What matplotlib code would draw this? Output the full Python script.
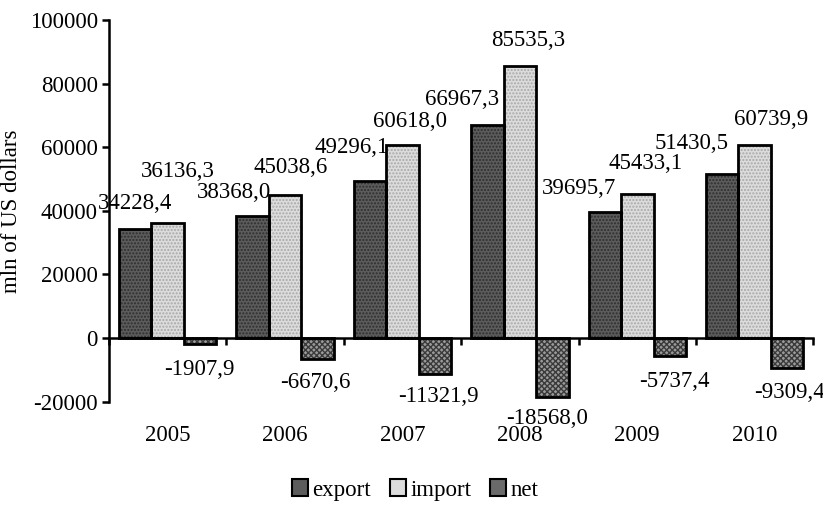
import matplotlib.pyplot as plt
import numpy as np
from matplotlib.patches import Patch

# data
years = ['2005', '2006', '2007', '2008', '2009', '2010']
export = [34228.4, 38368.0, 49296.1, 66967.3, 39695.7, 51430.5]
imports = [36136.3, 45038.6, 60618.0, 85535.3, 45433.1, 60739.9]
net = [-1907.9, -6670.6, -11321.9, -18568.0, -5737.4, -9309.4]

# label nudges in pixels (dx, dy), as placed in the original
export_nudge = [(0, 26), (-19, 23), (-18, 34), (-25, 26), (-26, 23), (-31, 31)]
import_nudge = [(10, 52), (6, 27), (8, 24), (8, 25), (8, 30), (16, 25)]
net_nudge = [(-1, -25), (-2, -23), (3, -22), (-5, -21), (5, -25), (2, -25)]

plt.rcParams['font.family'] = ['Liberation Serif', 'DejaVu Serif']
plt.rcParams['font.size'] = 16.5
plt.rcParams['axes.unicode_minus'] = False

fig = plt.figure(figsize=(8.23, 5.08), dpi=100)
ax = fig.add_axes([109 / 823, 1 - 401.6 / 508, (813.4 - 109) / 823, (401.6 - 20) / 508])

x = np.arange(len(years)) + 0.5
w = 0.277

series = [
    (export, -w, '#5c5c5c', '#2e2e2e', '.....', export_nudge),
    (imports, 0, '#dcdcdc', '#a8a8a8', '.....', import_nudge),
    (net, w, '#9a9a9a', '#3a3a3a', 'xxxxxx', net_nudge),
]

for vals, off, fc, hc, hatch, nudge in series:
    # filled pattern
    ax.bar(x + off, vals, w, color=fc, edgecolor=hc, hatch=hatch, linewidth=0, zorder=2)
    # black outline
    ax.bar(x + off, vals, w, fill=False, edgecolor='black', linewidth=2, zorder=3)
    for xi, v, (dx, dy) in zip(x + off, vals, nudge):
        ax.annotate(f"{v:.1f}".replace('.', ','), (xi, v), xytext=(dx, dy),
                    textcoords='offset pixels', ha='center', va='center', zorder=4)

ax.set_xlim(0, len(years))
ax.set_ylim(-20000, 100000)
ax.set_yticks(range(-20000, 100001, 20000))
ax.set_xticks(range(0, len(years) + 1))
ax.set_xticklabels([])

ax.spines['top'].set_visible(False)
ax.spines['right'].set_visible(False)
ax.spines['bottom'].set_position(('data', 0))
ax.spines['bottom'].set_linewidth(1.8)
ax.spines['left'].set_linewidth(1.8)
ax.spines['bottom'].set_zorder(5)
ax.tick_params(axis='both', direction='out', length=5, width=1.8)
ax.tick_params(axis='y', pad=3)

for xi, yr in zip(x, years):
    ax.text(xi, -0.088, yr, transform=ax.get_xaxis_transform(), ha='center', va='center')

ax.set_ylabel('mln of US dollars')
ax.yaxis.set_label_coords((22 - 109) / 704.4, 0.5)

handles = [
    Patch(facecolor='#5c5c5c', edgecolor='black', linewidth=1.5),
    Patch(facecolor='#dcdcdc', edgecolor='black', linewidth=1.5),
    Patch(facecolor='#6a6a6a', edgecolor='black', linewidth=1.5),
]
fig.legend(handles, ['export', 'import', 'net'], loc='center', bbox_to_anchor=(415 / 823, 1 - 490 / 508),
           ncol=3, frameon=False, handlelength=0.7, handleheight=0.7, handletextpad=0.2,
           columnspacing=0.8, fontsize=16.5)

fig.savefig('out.png', dpi=100)
